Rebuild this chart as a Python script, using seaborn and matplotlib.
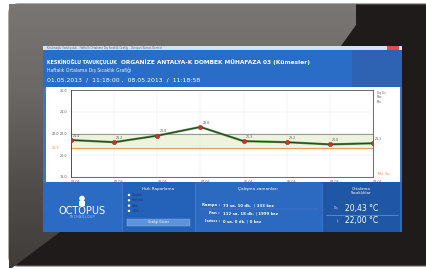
import matplotlib
matplotlib.use("Agg")
import matplotlib.pyplot as plt
import seaborn as sns
import numpy as np
import pandas as pd
from matplotlib.patches import FancyBboxPatch, Polygon, Rectangle, Circle

# chart data (estimated)
days = ["01.05", "02.05", "03.05", "04.05", "05.05", "06.05", "07.05", "08.05"]
temps = [21.4, 21.2, 21.8, 22.6, 21.3, 21.2, 21.0, 21.1]
y_ticks = [18.0, 20.0, 22.0, 24.0, 26.0]
max_limit = 22.0
min_limit = 20.7

# window texts
title_bar = "Keskinoğlu Tavukçuluk - Haftalık Ortalama Dış Sıcaklık Grafiği - Octopus Kümes Kontrol"
header_company = "KESKİNOĞLU TAVUKÇULUK"
header_site = "ORGANİZE ANTALYA-K DOMBEK MÜHAFAZA 03 (Kümesler)"
header_sub = "Haftalık Ortalama Dış Sıcaklık Grafiği"
header_dates = "01.05.2013  /  11:18:00 ,  08.05.2013  /  11:18:58"
report_title = "Hızlı Raporlama"
report_options = ["Günlük", "Haftalık", "Aylık", "Yıllık"]
report_button = "Grafiği Göster"
work_title = "Çalışma zamanları"
work_names = ["Rampa :", "Fan :", "Isıtıcı :"]
work_values = ["73 sa. 10 dk.  | 333 kez", "112 sa. 18 dk. | 1999 kez", "0 sa. 0 dk. | 0 kez"]
avg_title = "Ortalama\nSıcaklıklar"
avg_names = ["Dış", "İç"]
avg_values = ["20,43 °C", "22,00 °C"]

sns.set_style("white")
plt.rcParams["font.family"] = ["DejaVu Sans"]

fig = plt.figure(figsize=(4.26, 2.69), dpi=100)
fig.patch.set_facecolor("white")

# background axes in pixel coordinates
bg = fig.add_axes([0, 0, 1, 1])
bg.set_xlim(0, 426)
bg.set_ylim(269, 0)
bg.axis("off")

# device body
body = FancyBboxPatch((9, 4), 440, 262, boxstyle="round,pad=0,rounding_size=9",
                      fc="#1e1b1a", ec="#6a6664", lw=0.8)
bg.add_patch(body)

# glossy reflection on the bezel
grad = np.linspace(0, 1, 256).reshape(-1, 1)
refl = bg.imshow(grad, extent=(0, 426, 269, 0), cmap=matplotlib.colors.LinearSegmentedColormap.from_list(
    "refl", ["#7b7775", "#6c6866", "#524e4c", "#403c3a"]), aspect="auto", zorder=1)
shape = Polygon([(9, 4), (356, 4), (356, 25), (341, 46), (43, 46), (43, 232),
                 (60, 232), (12, 268), (9, 268)], closed=True, transform=bg.transData)
refl.set_clip_path(shape)

# window title bar
bg.add_patch(Rectangle((43, 46), 359, 4, fc="#d3e3f6", ec="none", zorder=2))
bg.text(47, 48, title_bar, fontsize=1.9, color="#54627a", va="center", zorder=3)
bg.add_patch(Rectangle((387, 46.3), 12, 3.2, fc="#d8504a", ec="none", zorder=3))

# header band
bg.add_patch(Rectangle((43, 50), 359, 37, fc="#2a6dc6", ec="none", zorder=2))
bg.add_patch(Rectangle((352, 50), 50, 37, fc="#2d63b2", ec="none", zorder=2))
bg.text(47, 62, header_company, fontsize=3.4, color="white", fontweight="bold", va="center", zorder=3)
bg.text(121, 62, header_site, fontsize=4.2, color="white", fontweight="bold", va="center", zorder=3)
bg.text(47, 70.5, header_sub, fontsize=3.3, color="#e6efff", va="center", zorder=3)
bg.text(47, 80, header_dates, fontsize=4.4, color="white", va="center", zorder=3)

# chart area
bg.add_patch(Rectangle((43, 87), 359, 95, fc="white", ec="none", zorder=2))
bg.add_patch(Rectangle((43, 87), 2.5, 95, fc="#3b75c8", ec="none", zorder=2))
bg.add_patch(Rectangle((399.5, 87), 2.5, 95, fc="#3b75c8", ec="none", zorder=2))
bg.text(44, 90, "°C", fontsize=2.4, color="#e07a3a", va="center", zorder=3)
bg.text(377, 91, "Dış Sıc.\nMax\nMin", fontsize=1.9, color="#555555", va="top", linespacing=1.1, zorder=3)
bg.text(378, 174, "Min. Sıc.", fontsize=2.2, color="#e07a3a", va="center", zorder=3)
bg.text(52, 134, f"{max_limit:.1f}", fontsize=2.4, color="#444444", va="center", zorder=3)
bg.text(52, 148, f"{min_limit:.1f}", fontsize=2.4, color="#e07a3a", va="center", zorder=3)

# footer panels
bg.add_patch(Rectangle((43, 182), 359, 50, fc="#2b6bc3", ec="none", zorder=2))
bg.add_patch(Rectangle((122, 182), 73, 50, fc="#2461b8", ec="none", zorder=2))
bg.add_patch(Rectangle((195, 182), 127, 50, fc="#2c69c0", ec="none", zorder=2))
bg.add_patch(Rectangle((322, 182), 78, 50, fc="#1f57a6", ec="none", zorder=2))
for xl in (122, 195, 322):
    bg.plot([xl, xl], [183, 231], color="#5a8ad0", lw=0.4, zorder=3)

# logo
bg.add_patch(Circle((82, 198.5), 2.8, fc="white", ec="none", zorder=3))
bg.add_patch(Rectangle((78.8, 200.5), 6.4, 5.5, fc="white", ec="none", zorder=3))
bg.text(82, 210.5, "OCTOPUS", fontsize=7.0, color="white", ha="center", va="center", zorder=3)
bg.text(82, 216.5, "T E C H N O L O G Y", fontsize=1.9, color="#cfe0f7", ha="center", va="center", zorder=3)

# quick report section
bg.text(158, 189, report_title, fontsize=3.0, color="white", ha="center", va="center", zorder=3)
for k, name in enumerate(report_options):
    yy = 195 + k * 5.3
    bg.add_patch(Circle((129, yy), 1.2, fc="white", ec="none", zorder=3))
    bg.text(132, yy, name, fontsize=2.2, color="#17386e", va="center", zorder=3)
bg.add_patch(Rectangle((127, 219), 63, 7, fc="#5d93da", ec="#8fb6ea", lw=0.3, zorder=3))
bg.text(158.5, 222.5, report_button, fontsize=2.2, color="white", ha="center", va="center", zorder=4)

# running times section
bg.text(258, 189, work_title, fontsize=3.2, color="white", ha="center", va="center", zorder=3)
for k, (nm, val) in enumerate(zip(work_names, work_values)):
    yy = 205 + k * 8
    bg.text(220, yy, nm, fontsize=2.8, color="white", fontweight="bold", ha="right", va="center", zorder=3)
    bg.text(223, yy, val, fontsize=2.8, color="white", fontweight="bold", va="center", zorder=3)
bg.plot([200, 318], [209, 209], color="#4f84cc", lw=0.3, zorder=3)

# average temperature section
bg.text(361, 191, avg_title, fontsize=2.9, color="white", ha="center", va="center",
        linespacing=1.0, zorder=3)
for k, (nm, val) in enumerate(zip(avg_names, avg_values)):
    yy = 208 + k * 13
    bg.text(339, yy, nm, fontsize=2.2, color="#cfe0f7", ha="right", va="center", zorder=3)
    bg.text(345, yy, val, fontsize=5.5, color="white", va="center", zorder=3)
bg.plot([326, 398], [214.5, 214.5], color="#7fa6de", lw=0.4, zorder=3)

# the line chart itself
df = pd.DataFrame({"Gün": days, "Sıcaklık": temps})
ax = fig.add_axes([71 / 426, 1 - 177 / 269, 302 / 426, 87 / 269])
ax.set_facecolor("none")
ax.axhspan(min_limit, max_limit, color="#eef3dd", zorder=0)
ax.axhline(max_limit, color="#9a9a9a", lw=0.8, zorder=1)
ax.axhline(min_limit, color="#ef9a5a", lw=0.8, zorder=1)
sns.lineplot(data=df, x="Gün", y="Sıcaklık", ax=ax, color="#4f8f3c", lw=1.6, zorder=3)
sns.lineplot(data=df, x="Gün", y="Sıcaklık", ax=ax, color="#2e3a2c", lw=0.7,
             marker="o", markersize=3.2, markerfacecolor="#c0392b",
             markeredgecolor="#8e2a20", markeredgewidth=0.3, zorder=4)
for i, t in enumerate(temps):
    ax.annotate(f"{t:.1f}", (i, t), xytext=(1.5, 2.5), textcoords="offset points",
                fontsize=2.3, color="#555555", zorder=5)

ax.set_xlim(0, len(days) - 1)
ax.set_ylim(y_ticks[0], y_ticks[-1])
ax.set_yticks(y_ticks)
ax.set_yticklabels([f"{v:.1f}" for v in y_ticks], fontsize=2.4, color="#555555")
ax.set_xticks(range(len(days)))
ax.set_xticklabels(days, fontsize=2.4, color="#555555", ha="left")
ax.tick_params(axis="both", length=1.5, width=0.4, pad=1, color="#555555")
ax.grid(True, color="#e4e4e4", lw=0.3)
ax.set_xlabel("")
ax.set_ylabel("")
for s in ax.spines.values():
    s.set_color("#555555")
    s.set_linewidth(0.6)
ax.spines["left"].set_color("#333333")

fig.savefig("out.png", dpi=100, facecolor=fig.get_facecolor())
